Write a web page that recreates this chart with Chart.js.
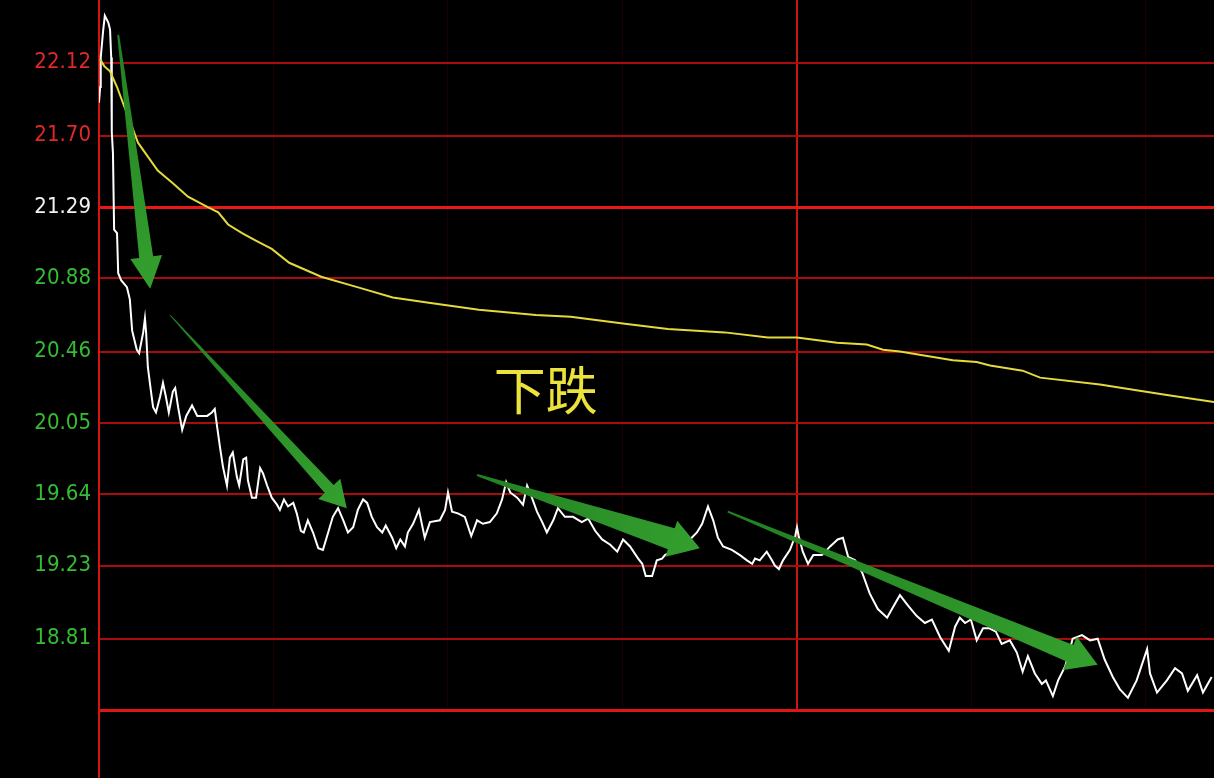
<!DOCTYPE html>
<html>
<head>
<meta charset="utf-8">
<script src="https://cdn.jsdelivr.net/npm/chart.js@4.4.1/dist/chart.umd.min.js"></script>
<style>
  html, body { margin: 0; padding: 0; background: #000; }
  canvas { display: block; }
</style>
</head>
<body>
<canvas id="fenshi" width="1214" height="778"></canvas>
<script>
// minutes since 9:30 (120 = midday break), price
var priceTimes = [0,0.2,0.3,0.7,1.0,1.6,1.9,2.1,2.2,2.4,2.6,3.1,3.3,3.8,4.8,5.3,5.7,6.5,6.9,7.6,7.9,8.1,8.4,8.9,9.3,9.8,10.5,11.0,11.5,12.0,12.7,13.1,13.6,14.3,15.0,16.0,16.9,17.7,18.6,19.4,19.9,20.3,20.8,21.3,22.0,22.5,23.0,23.7,24.1,24.8,25.3,25.6,26.3,27.0,27.7,28.2,28.9,29.7,30.6,31.1,31.8,32.5,33.4,34.0,34.7,35.2,35.9,36.8,37.7,38.5,39.4,40.2,41.1,42.0,42.8,43.7,44.5,45.4,46.1,46.9,47.8,48.7,49.3,50.4,51.1,51.8,52.6,53.1,54.0,55.0,56.0,56.9,58.6,59.5,60.0,60.7,61.7,62.9,64.0,65.0,66.0,67.2,68.4,69.3,70.0,70.7,71.9,72.9,73.6,74.1,75.3,76.2,77.0,78.1,78.9,80.1,81.5,83.0,84.1,85.3,86.5,87.9,89.1,90.1,91.3,92.7,93.4,94.0,95.1,95.9,96.8,97.3,99.0,100.4,101.6,102.8,103.7,104.7,105.6,106.4,107.3,108.8,110.2,111.4,112.3,112.8,113.6,114.8,115.7,116.2,116.9,117.6,118.8,119.7,120.0,120.3,121.0,121.9,122.8,124.3,125.7,127.0,127.9,128.8,130.0,131.2,132.5,133.9,135.5,136.5,137.7,139.1,140.6,142.0,143.2,144.6,146.1,147.2,148.0,148.9,149.9,150.9,152.0,153.0,154.2,155.2,156.6,157.8,158.8,159.7,160.9,162.1,162.8,164.0,164.9,166.1,166.8,167.4,169.0,170.4,171.7,172.9,174.3,175.5,176.9,178.4,180.2,180.7,181.9,183.6,185.0,186.2,187.2,188.8,189.8,191.3];
var prices = [21.89,21.98,22.15,22.30,22.39,22.35,22.31,22.15,21.72,21.60,21.16,21.14,20.91,20.87,20.83,20.76,20.58,20.47,20.45,20.57,20.65,20.57,20.37,20.24,20.14,20.11,20.20,20.28,20.20,20.11,20.23,20.25,20.14,20.01,20.09,20.15,20.09,20.09,20.09,20.11,20.13,20.03,19.91,19.80,19.69,19.85,19.88,19.74,19.69,19.84,19.85,19.72,19.62,19.62,19.79,19.76,19.69,19.62,19.58,19.55,19.61,19.57,19.59,19.53,19.43,19.42,19.49,19.42,19.33,19.32,19.42,19.51,19.56,19.49,19.42,19.45,19.55,19.61,19.59,19.51,19.45,19.42,19.46,19.39,19.33,19.38,19.34,19.42,19.47,19.55,19.39,19.48,19.49,19.55,19.65,19.54,19.53,19.51,19.40,19.49,19.47,19.48,19.53,19.61,19.71,19.65,19.62,19.58,19.69,19.65,19.54,19.48,19.42,19.49,19.56,19.51,19.51,19.48,19.50,19.43,19.38,19.35,19.31,19.38,19.34,19.27,19.24,19.17,19.17,19.26,19.27,19.29,19.32,19.35,19.38,19.42,19.47,19.57,19.49,19.39,19.34,19.32,19.29,19.26,19.24,19.27,19.26,19.31,19.26,19.23,19.21,19.26,19.32,19.40,19.45,19.40,19.31,19.24,19.29,19.29,19.34,19.38,19.39,19.28,19.26,19.19,19.07,18.98,18.93,18.99,19.06,19.00,18.94,18.90,18.92,18.82,18.74,18.88,18.93,18.90,18.92,18.80,18.87,18.87,18.85,18.78,18.80,18.73,18.62,18.71,18.61,18.55,18.57,18.48,18.57,18.65,18.73,18.81,18.83,18.80,18.81,18.69,18.59,18.52,18.47,18.57,18.75,18.61,18.50,18.57,18.64,18.61,18.51,18.60,18.50,18.59];

// average price line (yellow)
var avgTimes = [0.2,0.9,1.9,3.1,4.1,5.7,6.7,8.4,10.1,12.6,15.3,18.7,20.5,22.2,24.6,26.8,29.7,32.7,38.2,44.4,50.5,56.7,65.3,75.1,81.1,90.4,97.8,107.6,115.0,120.0,126.9,132.0,134.8,137.7,146.8,150.9,153.2,158.8,161.8,172.1,177.8,183.6,191.7];
var avgPrices = [22.14,22.10,22.07,21.98,21.89,21.75,21.66,21.58,21.50,21.43,21.35,21.29,21.26,21.19,21.14,21.10,21.05,20.97,20.89,20.83,20.77,20.74,20.70,20.67,20.66,20.62,20.59,20.57,20.54,20.54,20.51,20.50,20.47,20.46,20.41,20.40,20.38,20.35,20.31,20.27,20.24,20.21,20.17];

var prevClose = 21.29;
var tickLabels = ['22.12', '21.70', '21.29', '20.88', '20.46', '20.05', '19.64', '19.23', '18.81'];

// arrows: [tail minute, tail price, tip minute, tip price]
var arrowTails = [[3.3, 22.28], [12.2, 20.67], [65.0, 19.75], [108.1, 19.54]];
var arrowTips = [[8.8, 20.82], [42.6, 19.56], [103.3, 19.33], [171.7, 18.66]];
var arrowSizes = [[2, 14, 32, 32], [1, 12, 30, 26], [2, 22, 38, 30], [2, 18, 36, 30]];

var noteText = '下跌';
var notePos = [76.8, 20.24];

function pts(xs, ys) {
    return xs.map(function (t, i) { return { x: t, y: ys[i] }; });
}

function drawArrow(ctx, x0, y0, x1, y1, s) {
    var dx = x1 - x0, dy = y1 - y0;
    var len = Math.sqrt(dx * dx + dy * dy);
    var ux = dx / len, uy = dy / len;
    var nx = -uy, ny = ux;
    var bx = x1 - ux * s[3], by = y1 - uy * s[3];
    var g = ctx.createLinearGradient(x0, y0, x1, y1);
    g.addColorStop(0, 'rgb(34,128,34)');
    g.addColorStop(1, 'rgb(52,160,46)');
    ctx.fillStyle = g;
    ctx.beginPath();
    ctx.moveTo(x0 + nx * s[0] / 2, y0 + ny * s[0] / 2);
    ctx.lineTo(bx + nx * s[1] / 2, by + ny * s[1] / 2);
    ctx.lineTo(bx + nx * s[2] / 2, by + ny * s[2] / 2);
    ctx.lineTo(x1, y1);
    ctx.lineTo(bx - nx * s[2] / 2, by - ny * s[2] / 2);
    ctx.lineTo(bx - nx * s[1] / 2, by - ny * s[1] / 2);
    ctx.lineTo(x0 - nx * s[0] / 2, y0 - ny * s[0] / 2);
    ctx.closePath();
    ctx.fill();
}

var notes = {
    id: 'notes',
    afterDatasetsDraw: function (chart) {
        var ctx = chart.ctx, xs = chart.scales.x, ys = chart.scales.y;
        ctx.save();
        // left axis runs on into the volume pane
        ctx.strokeStyle = 'rgb(210,20,20)';
        ctx.lineWidth = 2;
        ctx.beginPath();
        ctx.moveTo(chart.chartArea.left, chart.chartArea.bottom);
        ctx.lineTo(chart.chartArea.left, chart.height);
        ctx.stroke();

        for (var i = 0; i < arrowTails.length; i++) {
            drawArrow(ctx,
                xs.getPixelForValue(arrowTails[i][0]), ys.getPixelForValue(arrowTails[i][1]),
                xs.getPixelForValue(arrowTips[i][0]), ys.getPixelForValue(arrowTips[i][1]),
                arrowSizes[i]);
        }

        ctx.font = '52px "Noto Sans CJK SC"';
        ctx.fillStyle = 'rgb(236,226,60)';
        ctx.textAlign = 'center';
        ctx.textBaseline = 'middle';
        ctx.fillText(noteText, xs.getPixelForValue(notePos[0]), ys.getPixelForValue(notePos[1]));
        ctx.restore();
    }
};

new Chart(document.getElementById('fenshi'), {
    type: 'line',
    data: {
        datasets: [{
            label: '均价',
            data: pts(avgTimes, avgPrices),
            borderColor: 'rgb(228,218,60)',
            borderWidth: 2,
            pointRadius: 0,
            tension: 0
        }, {
            label: '价格',
            data: pts(priceTimes, prices),
            borderColor: '#ffffff',
            borderWidth: 2,
            pointRadius: 0,
            tension: 0
        }]
    },
    options: {
        responsive: false,
        animation: false,
        layout: { padding: { top: 0, right: 0, bottom: 68, left: 0 } },
        plugins: { legend: { display: false }, tooltip: { enabled: false } },
        scales: {
            x: {
                type: 'linear',
                min: 0,
                max: 191.7,
                ticks: { display: false, stepSize: 30 },
                grid: {
                    drawTicks: false,
                    color: function (c) {
                        if (c.tick.value === 120) return 'rgb(200,22,22)';
                        if (c.tick.value === 0) return 'rgba(0,0,0,0)';
                        return 'rgba(80,0,0,0.35)';
                    },
                    lineWidth: function (c) { return c.tick.value === 120 ? 2 : 1; }
                },
                border: { display: true, color: 'rgb(222,22,22)', width: 3 },
                afterFit: function (s) { s.height = 0; s.paddingLeft = 0; s.paddingRight = 0; }
            },
            y: {
                type: 'linear',
                min: 18.40,
                max: 22.48,
                afterBuildTicks: function (s) {
                    s.ticks = tickLabels.map(function (t) { return { value: parseFloat(t) }; });
                },
                afterFit: function (s) { s.width = 99; s.paddingTop = 0; s.paddingBottom = 0; },
                ticks: {
                    padding: 8,
                    font: { family: '"DejaVu Sans Condensed", "DejaVu Sans", sans-serif', size: 22 },
                    color: function (c) {
                        var v = c.tick.value;
                        if (Math.abs(v - prevClose) < 0.001) return '#f2f2f2';
                        return v > prevClose ? 'rgb(225,40,40)' : 'rgb(52,190,52)';
                    },
                    callback: function (v) { return v.toFixed(2); }
                },
                grid: {
                    drawTicks: false,
                    color: function (c) {
                        return Math.abs(c.tick.value - prevClose) < 0.001 ? 'rgb(232,24,24)' : 'rgb(168,12,12)';
                    },
                    lineWidth: function (c) {
                        return Math.abs(c.tick.value - prevClose) < 0.001 ? 3 : 2;
                    }
                },
                border: { display: true, color: 'rgb(210,20,20)', width: 2 }
            }
        }
    },
    plugins: [notes]
});
</script>
</body>
</html>
